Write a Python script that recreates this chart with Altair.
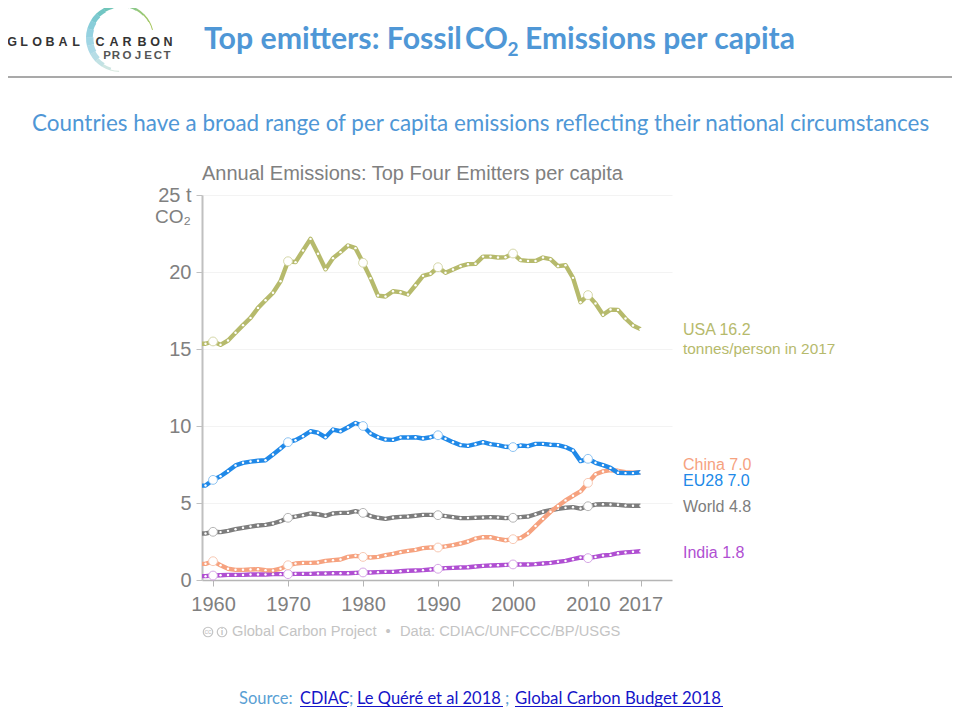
import math
import altair as alt
import pandas as pd

years = list(range(1959, 2018))
usa = [15.34,15.49,15.27,15.55,16.05,16.55,17.02,17.67,18.17,18.65,19.4,20.7,20.64,21.4,22.15,21.18,20.18,20.9,21.29,21.72,21.55,20.6,19.6,18.47,18.41,18.75,18.69,18.54,19.14,19.75,19.88,20.31,19.95,20.16,20.38,20.51,20.53,21.0,21.0,20.94,20.96,21.2,20.77,20.72,20.72,20.94,20.83,20.38,20.44,19.62,18.04,18.5,17.95,17.22,17.56,17.54,16.98,16.53,16.29]
eu = [6.13,6.5,6.74,7.07,7.44,7.61,7.69,7.74,7.78,8.15,8.54,8.95,9.08,9.34,9.66,9.56,9.27,9.77,9.66,9.92,10.2,10.0,9.51,9.27,9.12,9.1,9.25,9.25,9.27,9.19,9.27,9.4,9.17,8.95,8.76,8.71,8.82,8.95,8.82,8.76,8.65,8.63,8.73,8.69,8.84,8.84,8.78,8.76,8.63,8.41,7.72,7.87,7.61,7.46,7.28,6.96,6.94,6.94,7.0]
china = [1.05,1.22,0.96,0.73,0.66,0.66,0.68,0.7,0.64,0.62,0.73,0.96,1.07,1.11,1.11,1.14,1.24,1.29,1.33,1.5,1.57,1.5,1.46,1.5,1.61,1.7,1.81,1.89,1.96,2.07,2.11,2.11,2.18,2.26,2.37,2.5,2.69,2.78,2.78,2.67,2.58,2.65,2.72,3.02,3.5,3.97,4.43,4.8,5.17,5.47,5.75,6.31,6.87,7.05,7.13,7.09,7.0,6.96,7.0]
world = [3.02,3.13,3.11,3.19,3.3,3.39,3.47,3.54,3.58,3.67,3.82,4.04,4.12,4.21,4.32,4.27,4.17,4.32,4.36,4.36,4.47,4.36,4.15,4.04,3.97,4.06,4.1,4.12,4.17,4.23,4.23,4.21,4.15,4.08,4.02,4.02,4.04,4.06,4.08,4.06,4.02,4.04,4.08,4.12,4.27,4.43,4.53,4.62,4.69,4.73,4.64,4.79,4.9,4.92,4.9,4.88,4.84,4.82,4.82]
india = [0.25,0.29,0.31,0.33,0.33,0.33,0.36,0.36,0.36,0.38,0.38,0.38,0.4,0.4,0.4,0.42,0.42,0.44,0.44,0.44,0.46,0.49,0.49,0.51,0.53,0.53,0.57,0.6,0.62,0.64,0.68,0.73,0.77,0.79,0.81,0.83,0.88,0.92,0.94,0.96,0.98,1.01,1.01,1.01,1.03,1.07,1.11,1.18,1.24,1.35,1.46,1.42,1.5,1.59,1.63,1.74,1.79,1.83,1.87]

AXIS_START = 1958.53
AXIS_END = 2021.2
x_ticks = [1960, 1970, 1980, 1990, 2000, 2010, 2017]
y_ticks = [0, 5, 10, 15, 20, 25]
decades = [1960, 1970, 1980, 1990, 2000, 2010]

series = [
    ("World", world, "#7d7d7d", "#b5b5b5"),
    ("India", india, "#b04fd2", "#d6a6e6"),
    ("China", china, "#f6a27f", "#f8c9b4"),
    ("EU28", eu, "#2089e8", "#8fc4f2"),
    ("USA", usa, "#b6ba6c", "#d6d8aa"),
]

PLOT_LEFT, PLOT_TOP = 202, 195
BLUE = "#4f97d6"
LINK = "#1414c8"
GREY = "#808080"
SANS = "Liberation Sans"
SLIDE = "Lato"

xs = alt.Scale(domain=[AXIS_START, AXIS_END], nice=False, zero=False)
ys = alt.Scale(domain=[0, 25], nice=False)
blank = alt.Data(values=[{}])

x_axis = alt.Axis(
    values=x_ticks, format="d", labelFontSize=20, labelColor=GREY, labelFont=SANS, labelPadding=8,
    tickColor="#b5b5b5", tickSize=6, tickWidth=1, domainColor="#b5b5b5", domainWidth=1.5, grid=False,
    labelOverlap=False, labelFlush=False, title=None,
)
y_axis = alt.Axis(
    values=y_ticks, labelFontSize=20, labelColor=GREY, labelFont=SANS, labelPadding=5,
    labelExpr="datum.value == 25 ? '25 t' : datum.value",
    tickColor="#c0c0c0", tickSize=6, tickWidth=1, domainColor="#c0c0c0", domainWidth=2,
    grid=True, gridColor="#f3f3f3", gridWidth=1, title=None,
)


def X():
    return alt.X("year:Q", scale=xs, axis=x_axis)


def Y():
    return alt.Y("value:Q", scale=ys, axis=y_axis)


def text(s, x, y, size, color, font=SANS, weight="normal", align="left"):
    return alt.Chart(blank).mark_text(
        fontSize=size, color=color, font=font, fontWeight=weight, align=align, baseline="middle"
    ).encode(x=alt.value(x - PLOT_LEFT), y=alt.value(y - PLOT_TOP), text=alt.value(s))


def hrule(x1, x2, y, color, width):
    return alt.Chart(blank).mark_rule(color=color, strokeWidth=width).encode(
        x=alt.value(x1 - PLOT_LEFT), x2=alt.value(x2 - PLOT_LEFT), y=alt.value(y - PLOT_TOP)
    )


layers = []

# series
for name, vals, col, pale in series:
    line_df = pd.DataFrame({"year": [AXIS_START] + years, "value": [vals[0]] + vals})
    df = pd.DataFrame({"year": years, "value": vals})
    layers.append(alt.Chart(line_df).mark_line(color=col, strokeWidth=4.4, strokeJoin="round").encode(x=X(), y=Y()))
    layers.append(
        alt.Chart(df).mark_point(filled=True, color="white", size=6, opacity=1).encode(x=X(), y=Y())
    )
    layers.append(
        alt.Chart(df[df.year.isin(decades)]).mark_point(
            filled=True, fill="white", stroke=pale, strokeWidth=1, size=78, opacity=1
        ).encode(x=X(), y=Y())
    )

# chart annotations
layers += [
    text("Annual Emissions: Top Four Emitters per capita", 202, 174, 20, GREY),
    text("CO\u2082", 155, 217, 19, GREY),
    text("USA 16.2", 683, 330, 16, "#b6ba6c"),
    text("tonnes/person in 2017", 683, 349, 15.4, "#b6ba6c"),
    text("China 7.0", 683, 465, 16, "#f6a27f"),
    text("EU28 7.0", 683, 481, 16, "#2089e8"),
    text("World 4.8", 683, 507, 16, "#7d7d7d"),
    text("India 1.8", 683, 553, 16, "#b04fd2"),
    text("Global Carbon Project", 232, 632, 14.7, "#c4c4c4"),
    text("\u2022", 388, 632, 14.7, "#c4c4c4", align="center"),
    text("Data: CDIAC/UNFCCC/BP/USGS", 400, 632, 14.7, "#c4c4c4"),
    text("cc", 208, 632, 7, "#c4c4c4", align="center"),
    text("i", 222, 632, 9, "#c4c4c4", weight="bold", align="center"),
]
for cx in (208, 222):
    layers.append(
        alt.Chart(blank).mark_point(size=90, filled=False, color="#c4c4c4", strokeWidth=1.2, opacity=1).encode(
            x=alt.value(cx - PLOT_LEFT), y=alt.value(632 - PLOT_TOP)
        )
    )

# slide furniture
layers += [
    hrule(0, 960, 77, "#8c8c8c", 1.5),
    text("Top emitters: Fossil", 204, 39.5, 30.3, BLUE, font=SLIDE, weight="bold"),
    text("CO", 465, 39.5, 29.5, BLUE, font=SLIDE, weight="bold"),
    text("2", 507.5, 50, 19, BLUE, font=SLIDE, weight="bold"),
    text("Emissions per capita", 525, 39.5, 30, BLUE, font=SLIDE, weight="bold"),
    text("Countries have a broad range of per capita emissions reflecting their national circumstances", 32, 123.5, 22.45, BLUE, font=SLIDE),
    text("Source:", 239, 699, 16.5, "#5a9fd4", font=SLIDE),
    text("CDIAC", 300, 699, 16.3, LINK, font=SLIDE),
    text(";", 349, 699, 16.5, "#5a9fd4", font=SLIDE),
    text("Le Qu\u00e9r\u00e9 et al 2018", 357, 699, 16.5, LINK, font=SLIDE),
    text(";", 505, 699, 16.5, "#5a9fd4", font=SLIDE),
    text("Global Carbon Budget 2018", 515, 699, 16.8, LINK, font=SLIDE),
    hrule(300, 347, 706.5, LINK, 1),
    hrule(357, 503, 706.5, LINK, 1),
    hrule(515, 723, 706.5, LINK, 1),
]

# logo crescent
ring_colors = ["#a6c65c", "#a0c76a", "#97c878", "#8cc888", "#80c79a", "#76c6aa", "#70c5b8", "#72c6c4", "#7cc9d0", "#88cdd9", "#95d1e0", "#a0d5e4", "#abd9e6", "#b6dde6", "#c2e2e4", "#cee6e2", "#dbebe2"]
ring_thick = [1.0, 1.5, 2.0, 2.5, 3.0, 3.5, 4.0, 4.6, 5.4, 6.2, 6.8, 7.4, 7.0, 6.0, 4.5, 3.0, 1.2]
start, end = 76.0, -178.0
step = (start - end) / len(ring_colors)
seg_rows = []
for i, (c, t) in enumerate(zip(ring_colors, ring_thick)):
    a1 = start - i * step
    a2 = a1 - step - 0.5
    seg_rows.append({"a": math.radians(a2), "b": math.radians(a1), "o": 34.0, "n": 34.0 - t, "c": c})
layers.append(
    alt.Chart(pd.DataFrame(seg_rows)).mark_arc().encode(
        theta=alt.Theta("a:Q", scale=None),
        theta2="b:Q",
        radius=alt.Radius("o:Q", scale=None),
        radius2="n:Q",
        color=alt.Color("c:N", scale=None),
        x=alt.value(120 - PLOT_LEFT),
        y=alt.value(38 - PLOT_TOP),
    )
)
for word, xpos, ypos, size, col in [
    ("GLOBAL", [12, 24, 37, 50, 63, 76], 42, 12.5, "#333333"),
    ("CARBON", [100, 114, 127, 142, 155, 168], 42, 12.5, "#333333"),
    ("PROJECT", [107, 116, 127, 138, 148, 158, 167], 55.5, 11.5, "#555555"),
]:
    for ch, xp in zip(word, xpos):
        layers.append(text(ch, xp, ypos, size, col, weight="bold", align="center"))

chart = alt.layer(*layers).properties(
    width=470,
    height=385,
    padding={"left": 194, "top": 187, "right": 280, "bottom": 131},
    autosize=alt.AutoSizeParams(type="none"),
    background="white",
).configure_view(stroke=None)

chart.save("out.html", embed_options={"renderer": "svg", "actions": False})
